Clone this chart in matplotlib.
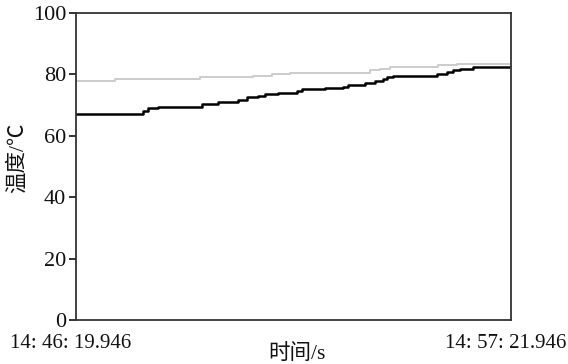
import matplotlib
matplotlib.use('Agg')
import matplotlib.pyplot as plt
import numpy as np

# time in seconds since 14:46:19.946, temperature in degC
t_black = [0, 101.5, 109.6, 124.8, 191.3, 216.1, 246.5, 259.8, 277.0, 287.7,
           307.5, 335.9, 343.5, 379.0, 406.3, 413.9, 439.8, 455.0, 467.2, 472.8,
           482.4, 548.9, 564.1, 573.7, 584.4, 604.2, 662]
temp_black = [67.2, 68.1, 69.2, 69.5, 70.5, 71.0, 71.7, 72.5, 73.0, 73.5,
              74.1, 74.6, 75.2, 75.5, 76.0, 76.6, 77.1, 77.7, 78.4, 79.0,
              79.5, 80.1, 80.9, 81.4, 81.9, 82.3, 82.3]

t_gray = [0, 59.3, 188.7, 269.4, 297.8, 325.7, 383.5, 447.4, 462.6, 477.8,
          550.9, 579.3, 662]
temp_gray = [77.9, 78.4, 79.0, 79.5, 80.1, 80.4, 80.6, 81.4, 81.9, 82.4,
             83.0, 83.3, 83.3]

yticks = [0, 20, 40, 60, 80, 100]
t_start = '14: 46: 19.946'
t_end = '14: 57: 21.946'

serif = ['Liberation Serif', 'Noto Sans CJK SC']
ink = '#111111'

fig = plt.figure(figsize=(5.68, 3.64), dpi=100)
ax = fig.add_axes([76/568, 44/364, 435/568, 307/364])

ax.plot(t_gray, temp_gray, color='#cccccc', lw=1.4, drawstyle='steps-post')
ax.plot(t_black, temp_black, color='black', lw=1.8, drawstyle='steps-post')

ax.set_xlim(0, 662)
ax.set_ylim(0, 100)
ax.set_xticks([])
ax.set_yticks(yticks)
ax.tick_params(axis='y', direction='out', length=5, width=1.2, pad=2,
               labelsize=16, colors=ink)
for lab in ax.get_yticklabels():
    lab.set_family(serif)
for s in ax.spines.values():
    s.set_color('#333333')
    s.set_linewidth(1.3)

fig.text(10/568, 1 - 344/364, t_start, ha='left', va='center',
         fontsize=15, family=serif, color=ink)
fig.text(566/568, 1 - 344/364, t_end, ha='right', va='center',
         fontsize=15, family=serif, color=ink)
fig.text(297/568, 1 - 354/364, '时间/s', ha='center', va='center',
         fontsize=15.5, family=serif, color=ink)
fig.text(18/568, 1 - 158/364, '温度/℃', ha='center', va='center',
         rotation=90, fontsize=15.5, family=serif, color=ink)

fig.savefig('out.png', dpi=100)
